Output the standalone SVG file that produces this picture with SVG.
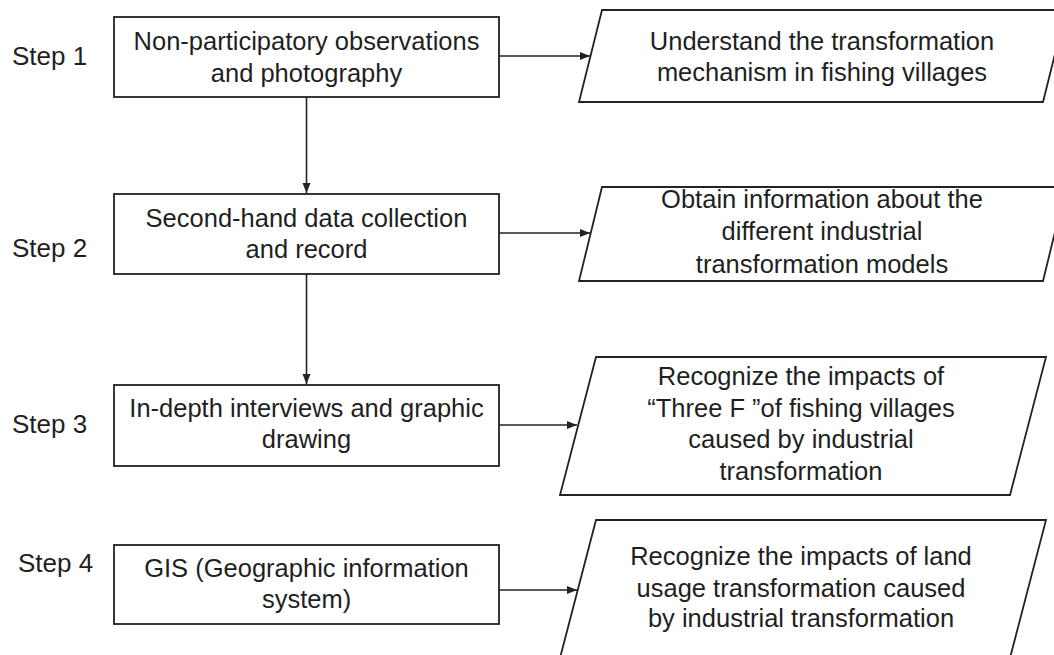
<svg xmlns="http://www.w3.org/2000/svg" width="1054" height="655" viewBox="0 0 1054 655">
<style>
text{font-family:"Liberation Sans",Arial,sans-serif;fill:#1f1f1f}
.t{font-size:25.5px;text-anchor:middle}
.s{font-size:26px}
.box{fill:#fff;stroke:#222;stroke-width:1.8}
.ln{fill:none;stroke:#222;stroke-width:1.6}
</style>
<defs>
<marker id="ah" markerUnits="userSpaceOnUse" markerWidth="12" markerHeight="10" refX="10" refY="4" orient="auto">
<path d="M0,0 L10,4 L0,8 Z" fill="#222"/>
</marker>
</defs>
<rect width="1054" height="655" fill="#fff"/>
<g id="labels">
<text class="s" x="12" y="65">Step 1</text>
<text class="s" x="12" y="257">Step 2</text>
<text class="s" x="12" y="433">Step 3</text>
<text class="s" x="18" y="572">Step 4</text>
</g>
<g id="connectors">
<line class="ln" x1="306.5" y1="97" x2="306.5" y2="193" marker-end="url(#ah)"/>
<line class="ln" x1="306.5" y1="274" x2="306.5" y2="384" marker-end="url(#ah)"/>
<line class="ln" x1="499" y1="56" x2="590" y2="56" marker-end="url(#ah)"/>
<line class="ln" x1="499" y1="233" x2="590" y2="233" marker-end="url(#ah)"/>
<line class="ln" x1="499" y1="425" x2="577" y2="425" marker-end="url(#ah)"/>
<line class="ln" x1="499" y1="590" x2="577" y2="590" marker-end="url(#ah)"/>
</g>
<g id="box1">
<rect class="box" x="114" y="17" width="385" height="80"/>
<text class="t" x="306.5" y="50">Non-participatory observations</text>
<text class="t" x="306.5" y="82">and photography</text>
</g>
<g id="box2">
<rect class="box" x="114" y="194" width="385" height="80"/>
<text class="t" x="306.5" y="227">Second-hand data collection</text>
<text class="t" x="306.5" y="258">and record</text>
</g>
<g id="box3">
<rect class="box" x="114" y="385" width="385" height="81"/>
<text class="t" x="306.5" y="417">In-depth interviews and graphic</text>
<text class="t" x="306.5" y="448">drawing</text>
</g>
<g id="box4">
<rect class="box" x="114" y="545" width="385" height="79"/>
<text class="t" x="306.5" y="577">GIS (Geographic information</text>
<text class="t" x="306.5" y="608">system)</text>
</g>
<g id="out1">
<polygon class="box" points="602,10 1066,10 1043,102 579,102"/>
<text class="t" x="822" y="50">Understand the transformation</text>
<text class="t" x="822" y="81">mechanism in fishing villages</text>
</g>
<g id="out2">
<polygon class="box" points="602,187 1066,187 1043,281 579,281"/>
<text class="t" x="822" y="208">Obtain information about the</text>
<text class="t" x="822" y="240">different industrial</text>
<text class="t" x="822" y="273">transformation models</text>
</g>
<g id="out3">
<polygon class="box" points="596,357 1046,357 1010,495 560,495"/>
<text class="t" x="801" y="385">Recognize the impacts of</text>
<text class="t" x="801" y="417">“Three F ”of fishing villages</text>
<text class="t" x="801" y="448">caused by industrial</text>
<text class="t" x="801" y="480">transformation</text>
</g>
<g id="out4">
<polygon class="box" points="596,520 1046,520 1010,658 560,658"/>
<text class="t" x="801" y="565">Recognize the impacts of land</text>
<text class="t" x="801" y="597">usage transformation caused</text>
<text class="t" x="801" y="627">by industrial transformation</text>
</g>
</svg>
